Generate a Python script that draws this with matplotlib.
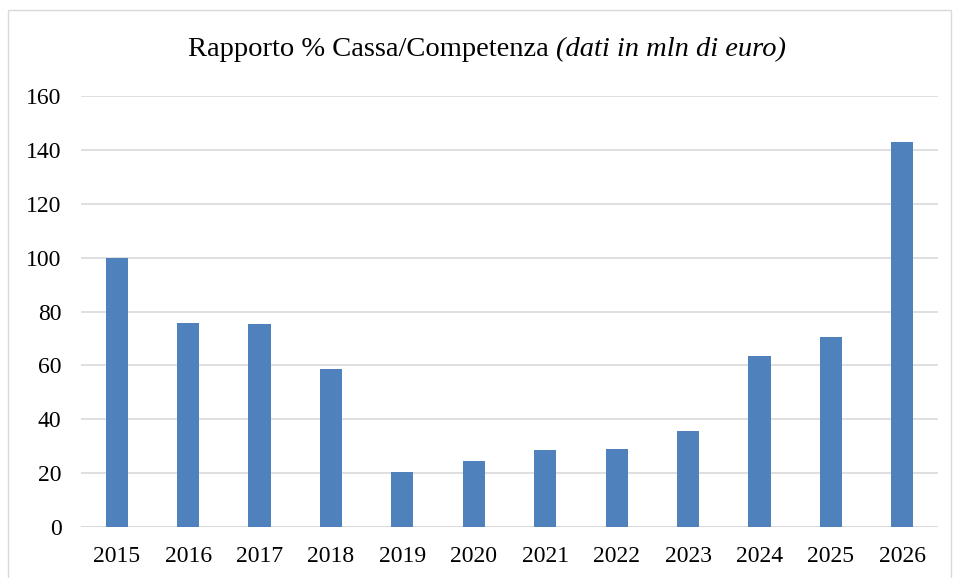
# bar chart: rapporto cassa/competenza
import matplotlib
matplotlib.use('Agg')
import matplotlib.pyplot as plt
from matplotlib.patches import Rectangle

years = ['2015', '2016', '2017', '2018', '2019', '2020',
         '2021', '2022', '2023', '2024', '2025', '2026']
ratio = [100.0, 75.6, 75.2, 58.7, 20.4, 24.4, 28.5, 28.9, 35.6, 63.5, 70.6, 142.8]
yticks = [0, 20, 40, 60, 80, 100, 120, 140, 160]

plt.rcParams['font.family'] = ['Liberation Serif', 'DejaVu Serif']

W, H = 955, 578
fig = plt.figure(figsize=(W / 100, H / 100), dpi=100)
ax = fig.add_axes([81 / W, (H - 527) / H, (938 - 81) / W, (527 - 96) / H])

ax.bar(range(len(years)), ratio, width=0.31, color='#4F81BD', zorder=3)
ax.set_xlim(-0.5, len(years) - 0.5)
ax.set_ylim(0, 160)
ax.set_yticks(yticks)
ax.set_yticklabels([str(v) for v in yticks])
ax.set_xticks(range(len(years)))
ax.set_xticklabels(years)
ax.tick_params(axis='both', length=0, labelsize=17, colors='black')
ax.tick_params(axis='x', pad=14)
ax.tick_params(axis='y', pad=14)
ax.grid(axis='y', color='#D9D9D9', linewidth=1.2, zorder=0)
for s in ax.spines.values():
    s.set_visible(False)
ax.axhline(0, color='#D9D9D9', linewidth=1.2, zorder=2)

# chart frame
fig.patches.append(Rectangle((8 / W, -0.01), (951 - 8) / W, (H - 10) / H + 0.01,
                             transform=fig.transFigure, fill=False,
                             edgecolor='#D9D9D9', linewidth=1))

# title with italic part, centred as a whole
t1 = fig.text(0, 0, 'Rapporto % Cassa/Competenza ', fontsize=20.5, va='center')
t2 = fig.text(0, 0, '(dati in mln di euro)', fontsize=20.5, style='italic', va='center')
fig.canvas.draw()
r = fig.canvas.get_renderer()
w1 = t1.get_window_extent(r).width
w2 = t2.get_window_extent(r).width
x0 = (487 - (w1 + w2) / 2) / W
ty = (H - 50) / H
t1.set_position((x0, ty))
t2.set_position((x0 + w1 / W, ty))

fig.savefig('out.png', dpi=100)
